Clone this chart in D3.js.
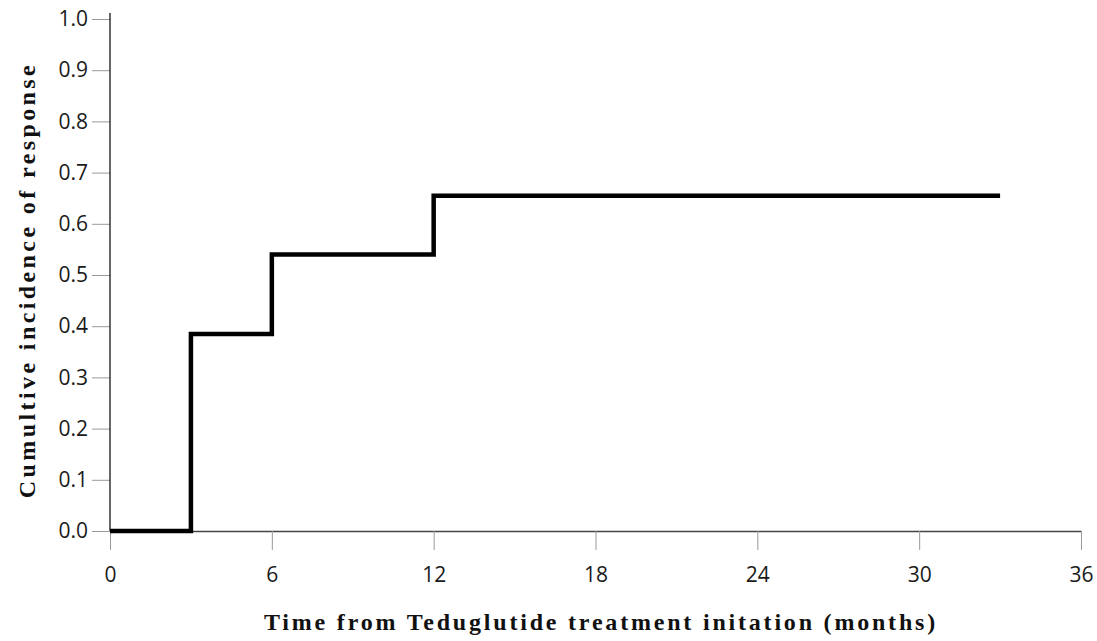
<!DOCTYPE html>
<html>
<head>
<meta charset="utf-8">
<script src="https://cdn.jsdelivr.net/npm/d3@7"></script>
<style>
  body { margin: 0; background: #fff; }
  .tick text { font-family: "Open Sans", sans-serif; font-size: 21px; fill: #1a1a1a; }
  .title { font-family: "Liberation Serif", "Times New Roman", serif; font-weight: bold; font-size: 24px; fill: #111; }
</style>
</head>
<body>
<div id="chart"></div>
<script>
// cumulative incidence steps (months, proportion)
const months = [0, 3, 6, 12, 33];
const incidence = [0, 0.385, 0.54, 0.655, 0.655];
const xTicks = [0, 6, 12, 18, 24, 30, 36];
const yTicks = [0, 0.1, 0.2, 0.3, 0.4, 0.5, 0.6, 0.7, 0.8, 0.9, 1.0];

const W = 1097, H = 641;
const margin = { top: 19, right: 16, bottom: 110, left: 110 };
const width = W - margin.left - margin.right,
      height = H - margin.top - margin.bottom;

const svg = d3.select("#chart").append("svg")
    .attr("width", W)
    .attr("height", H);

const g = svg.append("g")
    .attr("transform", `translate(${margin.left},${margin.top})`);

const x = d3.scaleLinear().domain([0, 36]).range([0, width]);
const y = d3.scaleLinear().domain([0, 1]).range([height, 0]);

// x axis
const xAxis = g.append("g")
    .attr("transform", `translate(0,${height})`)
    .call(d3.axisBottom(x).tickValues(xTicks).tickSize(19).tickPadding(17).tickSizeOuter(0));
xAxis.select(".domain").attr("stroke", "#444").attr("stroke-width", 1.5);
xAxis.selectAll(".tick line").attr("stroke", "#999");

// y axis
const yAxis = g.append("g")
    .call(d3.axisLeft(y).tickValues(yTicks).tickFormat(d3.format(".1f")).tickSize(18).tickPadding(4).tickSizeOuter(0));
yAxis.select(".domain").remove();
yAxis.selectAll(".tick line").attr("stroke", "#999");
g.append("line")
    .attr("x1", 0).attr("x2", 0)
    .attr("y1", -6).attr("y2", height)
    .attr("stroke", "#000").attr("stroke-width", 1.2);

// step line
const pts = months.map((m, i) => [m, incidence[i]]);
const line = d3.line()
    .x(d => x(d[0]))
    .y(d => y(d[1]))
    .curve(d3.curveStepAfter);

g.append("path")
    .datum(pts)
    .attr("fill", "none")
    .attr("stroke", "#000")
    .attr("stroke-width", 4.5)
    .attr("d", line);

// titles
svg.append("text")
    .attr("class", "title")
    .attr("x", 601)
    .attr("y", 630)
    .attr("text-anchor", "middle")
    .style("letter-spacing", "2.8px")
    .text("Time from Teduglutide treatment initation (months)");

svg.append("text")
    .attr("class", "title")
    .attr("transform", "translate(35,280) rotate(-90)")
    .attr("text-anchor", "middle")
    .style("letter-spacing", "3.4px")
    .text("Cumultive incidence of response");
</script>
</body>
</html>
